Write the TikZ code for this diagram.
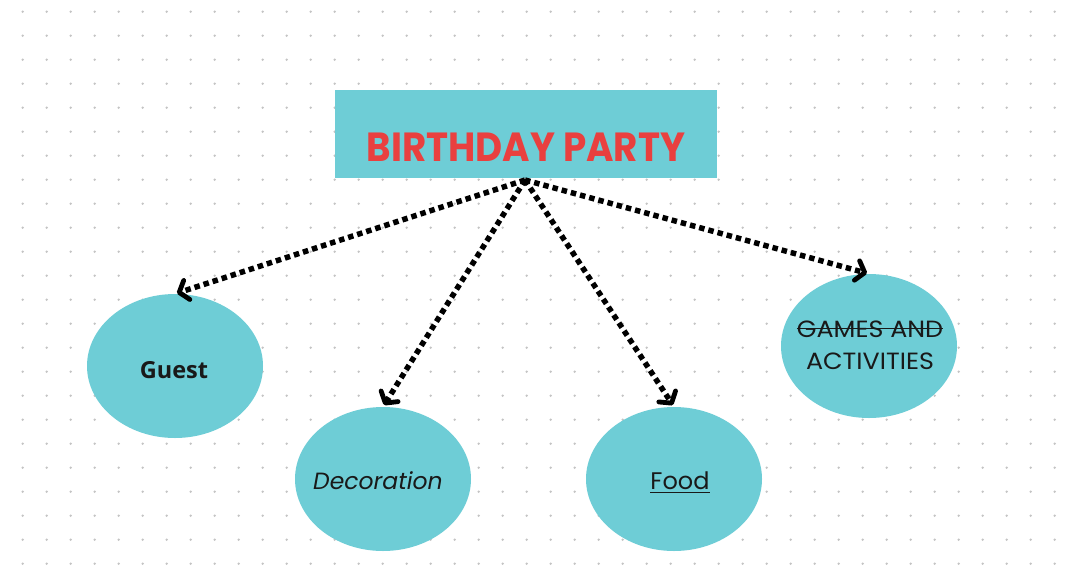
\documentclass[tikz,border=0pt]{standalone}
\usepackage{fontspec}
\usetikzlibrary{arrows.meta,shapes.geometric}
\setmainfont{Poppins}
\newfontfamily\guestfont{Open Sans}
\definecolor{teal}{HTML}{6ECDD6}
\definecolor{titlered}{HTML}{E9403F}
\definecolor{dotgray}{HTML}{C4C4C4}
\newcommand\strk[1]{\setbox0\hbox{#1}\rlap{\rule[0.33em]{\wd0}{0.06em}}\box0}
\newcommand\ulin[1]{\setbox0\hbox{#1}\rlap{\rule[-0.18em]{\wd0}{0.06em}}\box0}
\tikzset{
  bubble/.style={ellipse, fill=teal, minimum width=176pt, minimum height=144pt, inner sep=0pt},
  lbl/.style={inner sep=0pt, text=black!90},
  link/.style={line width=5.5pt, dash pattern=on 5.5pt off 4pt, shorten >=2pt,
     -{Straight Barb[length=8pt, width=20pt, line width=4.8pt, round]}},
}
\begin{document}
\begin{tikzpicture}[x=1pt,y=-1pt]
\useasboundingbox (0,0) rectangle (1068,584);
\fill[white] (0,0) rectangle (1068,584);
\foreach \i in {0,...,44} {
  \foreach \j in {0,...,24} {
    \fill[dotgray] (22.7+24*\i, 11.7+24*\j) circle (1.3pt);
  }
}
\node[fill=teal, minimum width=382pt, minimum height=88pt, inner sep=0pt] (title) at (526,134) {};
\node[inner sep=0pt, anchor=base] (titletext) at (526,161)
  {\scalebox{0.98}[1.07]{\fontsize{38}{40}\selectfont\bfseries\color{titlered}BIRTHDAY PARTY}};
\node[bubble] (guest) at (175,366) {};
\node[lbl, anchor=base] (guesttext) at (174,378) {\guestfont\bfseries\fontsize{23.5}{26}\selectfont Guest};
\node[bubble] (deco) at (383,479) {};
\node[lbl, anchor=base] (decotext) at (378,489) {\fontsize{23.5}{26}\selectfont\itshape Decoration};
\node[bubble] (food) at (674,479) {};
\node[lbl, anchor=base] (foodtext) at (680,489) {\fontsize{24}{26}\selectfont\ulin{Food}};
\node[bubble] (games) at (869,346) {};
\node[lbl, anchor=base] (games1) at (870,337) {\scalebox{1.08}[1]{\fontsize{23.5}{26}\selectfont\strk{GAMES AND}}};
\node[lbl, anchor=base] (games2) at (870,369) {\scalebox{1.08}[1]{\fontsize{23.5}{26}\selectfont ACTIVITIES}};
\coordinate (hub) at (525,180);
\draw[link] (hub) -- (guest.north);
\draw[link] (hub) -- (deco.north);
\draw[link] (hub) -- (food.north);
\draw[link] (hub) -- (games.north);
\end{tikzpicture}
\end{document}
